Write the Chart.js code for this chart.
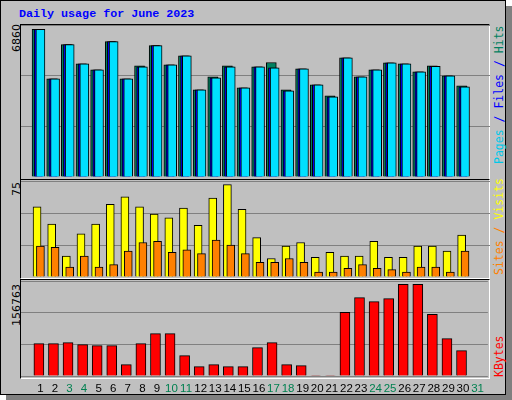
<!DOCTYPE html>
<html><head><meta charset="utf-8">
<script src="https://cdn.jsdelivr.net/npm/chart.js@4"></script>
<style>
body{margin:0;background:#fff;width:512px;height:400px;overflow:hidden;position:relative;font-family:"DejaVu Sans Mono",monospace}
#frame{position:absolute;left:0;top:0;width:504px;height:393px;border:1px solid #000;background:#c0c0c0;box-shadow:6px 6px 0 #808080}
.panel{position:absolute;left:20px;width:470px;border-top:1px solid #000;border-left:1px solid #000;border-right:1px solid #fff;border-bottom:1px solid #fff;box-sizing:border-box}
canvas{position:absolute}
.rot{position:absolute;transform-origin:0 0;transform:rotate(-90deg);white-space:nowrap;font-size:11.5px}
#title{position:absolute;left:19px;top:7px;color:#0000ff;font:bold 11.7px "Liberation Mono",monospace}
</style></head><body>
<div id="frame"></div>
<div id="title">Daily usage for June 2023</div>
<div class="panel" style="top:24px;height:156px"></div>
<div class="panel" style="top:179px;height:100px"></div>
<div class="panel" style="top:279px;height:100px"></div>
<div class="rot" style="left:10px;top:52px;font-family:'DejaVu Sans';font-size:11px">6860</div>
<div class="rot" style="left:10px;top:196px;font-family:'DejaVu Sans';font-size:11px">75</div>
<div class="rot" style="left:10px;top:326px;font-family:'DejaVu Sans';font-size:11px">156763</div>
<div class="rot" style="left:492px;top:164px"><span style="color:#00c8e8">Pages</span><span style="color:#0000ff"> / Files / </span><span style="color:#008060">Hits</span></div>
<div class="rot" style="left:492px;top:275px"><span style="color:#ff8000">Sites</span><span style="color:#ff8000"> / </span><span style="color:#ffff00">Visits</span></div>
<div class="rot" style="left:492px;top:377px;color:#ff0000">KBytes</div>
<canvas id="c1" style="left:21px;top:25px" width="469" height="152"></canvas>
<canvas id="c2" style="left:21px;top:181px" width="469" height="96"></canvas>
<canvas id="c3" style="left:21px;top:281px" width="469" height="117"></canvas>
<script>
const days=[1,2,3,4,5,6,7,8,9,10,11,12,13,14,15,16,17,18,19,20,21,22,23,24,25,26,27,28,29,30,31];
const weekend=[3,4,10,11,17,18,24,25,31];
const hits=[6860,4560,6146,5259,4979,6286,4560,5166,6099,5213,5632,4046,4653,5166,4139,5119,5320,4046,5026,4279,3766,5539,4653,4979,5306,5259,4886,5166,4699,4233,0];
const files=[6860,4560,6146,5259,4979,6286,4560,5119,6099,5213,5632,4046,4606,5119,4139,5119,5073,3999,5026,4279,3719,5539,4653,4979,5306,5259,4886,5140,4699,4186,0];
const pages=[6860,4560,6146,5259,4979,6286,4560,5119,6099,5213,5632,4046,4606,5119,4139,5119,5073,3999,5026,4279,3719,5539,4653,4979,5306,5259,4886,5140,4699,4186,0];
const sites=[57,43,17,35,43,59,65,57,51,48,56,42,64,75,55,32,15,25,28,16,20,17,17,29,16,16,25,25,21,34,0];
const visits=[25,24,8,17,8,10,21,28,29,20,22,19,30,26,19,12,12,15,12,4,4,7,10,7,6,4,8,8,4,21,0];
const kbytes=[55295,55295,57005,53584,51874,51874,19382,55295,72396,72396,34773,15961,19382,15961,15961,48454,57005,19382,17671,900,900,108880,133960,127120,132250,156763,156763,105460,63845,43324,0];

const MIN=0.19,MAX=31.19;
function xAxis(shift,show){
  return {type:'linear',min:MIN-shift,max:MAX-shift,display:show,
    grid:{display:false,drawTicks:false},border:{display:false},
    afterBuildTicks:a=>{a.ticks=days.map(v=>({value:v}));},
    afterFit:a=>{if(show)a.height=22;},
    ticks:{autoSkip:false,maxRotation:0,padding:6,font:{family:'Liberation Sans',size:11.5},
      color:c=>weekend.includes(days[c.index])?'#008050':'#000',callback:v=>String(v)}};
}
function yAxis(max){
  return {min:0,max:max,afterFit:a=>{a.width=0;},
    ticks:{display:false,stepSize:max/3},grid:{color:'#808080',drawTicks:false,lineWidth:1},border:{display:false}};
}
function ds(data,color,axis,w,order){
  return {data:days.map((d,i)=>({x:d,y:data[i]})),backgroundColor:color,borderColor:'#000',borderWidth:1,
    borderSkipped:'bottom',xAxisID:axis,barThickness:w,grouped:false,order:order};
}
const base={animation:false,responsive:false,maintainAspectRatio:false,
  plugins:{legend:{display:false},tooltip:{enabled:false}},layout:{padding:0}};

new Chart(document.getElementById('c1'),{type:'bar',data:{datasets:[
  ds(hits,'#008060','xh',10,3),ds(files,'#0000ff','xf',9,2),ds(pages,'#00e0ff','xp',9,1)]},
  options:{...base,scales:{xh:xAxis(-0.23,false),xf:xAxis(-0.12,false),xp:xAxis(0,false),y:yAxis(7060)}}});
new Chart(document.getElementById('c2'),{type:'bar',data:{datasets:[
  ds(sites,'#ffff00','xs',8,2),ds(visits,'#ff8000','xv',8,1)]},
  options:{...base,scales:{xs:xAxis(-0.23,false),xv:xAxis(0,false),y:yAxis(77.9)}}});
new Chart(document.getElementById('c3'),{type:'bar',data:{datasets:[
  ds(kbytes,'#ff0000','xk',10,1)]},
  options:{...base,scales:{xk:xAxis(-0.1,false),xl:xAxis(0,true),y:yAxis(162400)}}});
</script></body></html>
